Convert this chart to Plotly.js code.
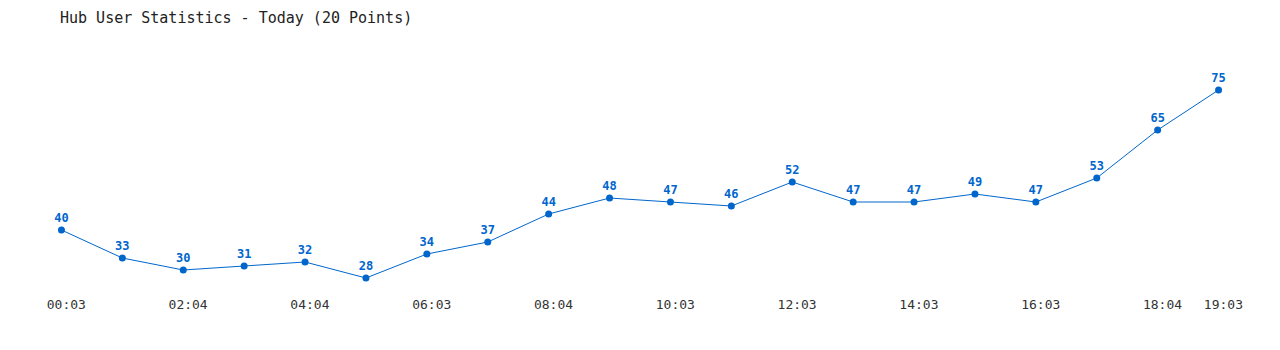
<!DOCTYPE html>
<html>
<head>
<meta charset="utf-8">
<script src="https://cdn.plot.ly/plotly-3.0.1.min.js"></script>
<style>html,body{margin:0;padding:0;background:#fff;}#chart{width:1280px;height:350px;}</style>
</head>
<body>
<div id="chart"></div>
<script>
const pointIndex = [0,1,2,3,4,5,6,7,8,9,10,11,12,13,14,15,16,17,18,19];
const userCounts = [40,33,30,31,32,28,34,37,44,48,47,46,52,47,47,49,47,53,65,75];
const tickPositions = [0,2,4,6,8,10,12,14,16,18,19];
const tickLabels = ['00:03','02:04','04:04','06:03','08:04','10:03','12:03','14:03','16:03','18:04','19:03'];
const chartTitle = 'Hub User Statistics - Today (20 Points)';

const tickShift = 0.08; // labels sit slightly right of their points in the reference

const trace = {
  x: pointIndex,
  y: userCounts,
  mode: 'lines+markers+text',
  type: 'scatter',
  text: userCounts.map(String),
  textposition: 'top center',
  textfont: {family: 'DejaVu Sans Mono, monospace', size: 12, color: '#0066cc', weight: 'bold'},
  line: {color: '#0066cc', width: 1},
  marker: {color: '#0066cc', size: 7},
  hoverinfo: 'none',
  cliponaxis: false
};

const layout = {
  width: 1280, height: 350,
  margin: {l: 31, r: 31, t: 50, b: 60},
  paper_bgcolor: '#ffffff',
  plot_bgcolor: '#ffffff',
  showlegend: false,
  title: {
    text: chartTitle,
    font: {family: 'DejaVu Sans Mono, monospace', size: 15, color: '#222222'},
    xref: 'container', yref: 'container',
    x: 60/1280, xanchor: 'left',
    y: 1 - 18/350, yanchor: 'middle'
  },
  xaxis: {
    range: [-0.5, 19.5],
    tickmode: 'array',
    tickvals: tickPositions.map(p => p + tickShift),
    ticktext: tickLabels,
    showgrid: false, zeroline: false, showline: false,
    ticks: '',
    ticklabelstandoff: 5,
    tickfont: {family: 'DejaVu Sans Mono, monospace', size: 13, color: '#333333'},
    fixedrange: true
  },
  yaxis: {
    range: [25, 85],
    visible: false,
    showgrid: false, zeroline: false,
    fixedrange: true
  }
};

Plotly.newPlot('chart', [trace], layout, {displayModeBar: false, staticPlot: true});
</script>
</body>
</html>
